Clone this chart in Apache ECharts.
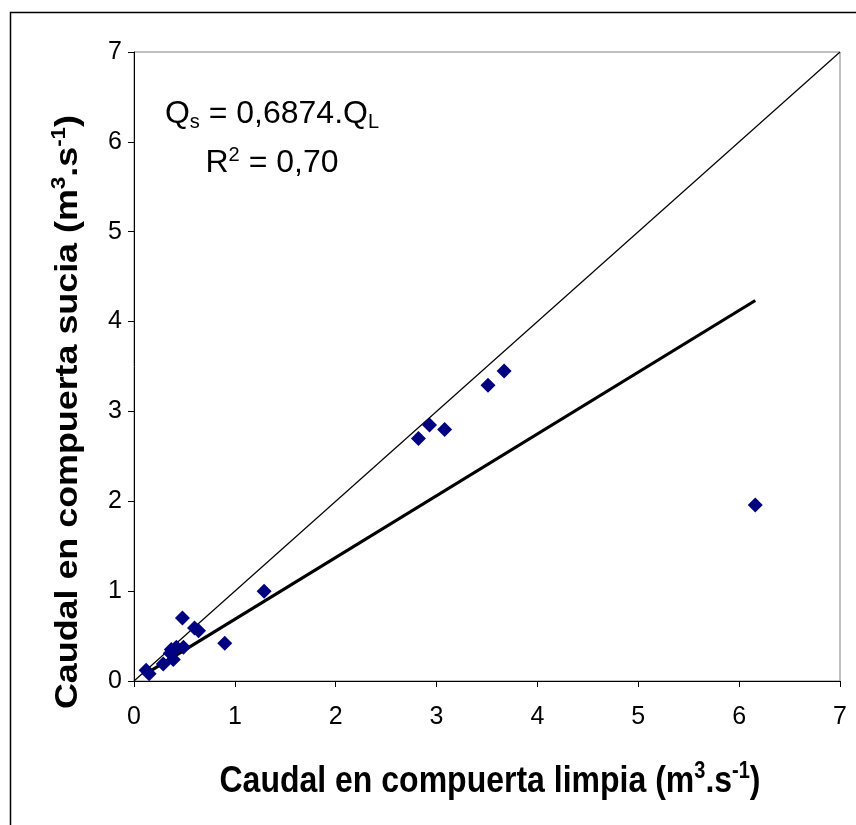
<!DOCTYPE html>
<html>
<head>
<meta charset="utf-8">
<script src="https://cdn.jsdelivr.net/npm/echarts@6/dist/echarts.min.js"></script>
<style>
html,body{margin:0;padding:0;background:#fff;}
#chart{width:856px;height:825px;}
</style>
</head>
<body>
<div id="chart"></div>
<script>
// Data
var cleanFlow = [6.16, 3.67, 3.51, 2.93, 2.82, 3.08, 1.29, 0.90, 0.48, 0.60, 0.64, 0.49, 0.37, 0.42, 0.39, 0.36, 0.29, 0.12, 0.15];
var dirtyFlow = [1.96, 3.45, 3.29, 2.85, 2.70, 2.80, 1.00, 0.42, 0.70, 0.59, 0.56, 0.375, 0.35, 0.375, 0.24, 0.31, 0.19, 0.12, 0.08];
var slope = 0.6874;
var r2Label = '0,70';
var slopeLabel = '0,6874';
var axisTicks = [0, 1, 2, 3, 4, 5, 6, 7];
var identityLine = [[0, 0], [7, 7]];
var xTitle = '{b|Caudal en compuerta limpia (m}{sup|3}{b|.s}{sup|-1}{b|)}';
var yTitle = '{b|Caudal en compuerta sucia (m}{sup|3}{b|.s}{sup|-1}{b|)}';

var points = cleanFlow.map(function (x, i) { return [x, dirtyFlow[i]]; });
var xMin = Math.min.apply(null, cleanFlow);
var xMax = Math.max.apply(null, cleanFlow);
var fitLine = [[xMin, slope * xMin], [xMax, slope * xMax]];

var FONT = 'Arial, "Liberation Sans", sans-serif';
var chart = echarts.init(document.getElementById('chart'), null, {renderer: 'canvas'});

var titleRich = {
  b: {fontSize: 32, fontWeight: 'bold', fontFamily: FONT, fill: '#000', lineHeight: 38},
  sup: {fontSize: 20, fontWeight: 'bold', fontFamily: FONT, fill: '#000', lineHeight: 20, verticalAlign: 'top'}
};

chart.setOption({
  animation: false,
  backgroundColor: '#fff',
  grid: {left: 134, top: 52, right: 16, bottom: 144, show: true, borderColor: '#808080', borderWidth: 1, backgroundColor: 'transparent'},
  xAxis: {
    type: 'value', min: 0, max: 7, interval: 1,
    splitLine: {show: false},
    axisLine: {show: true, onZero: false, lineStyle: {color: '#000', width: 1}},
    axisTick: {show: true, inside: false, length: 6, lineStyle: {color: '#000'}},
    axisLabel: {fontSize: 25, fontFamily: FONT, color: '#000', margin: 24}
  },
  yAxis: {
    type: 'value', min: 0, max: 7, interval: 1,
    splitLine: {show: false},
    axisLine: {show: true, onZero: false, lineStyle: {color: '#000', width: 1}},
    axisTick: {show: true, inside: false, length: 6, lineStyle: {color: '#000'}},
    axisLabel: {fontSize: 25, fontFamily: FONT, color: '#000', margin: 12}
  },
  series: [
    {
      type: 'line', data: identityLine, symbol: 'none', silent: true,
      lineStyle: {color: '#000', width: 1.2}, z: 2
    },
    {
      type: 'line', data: fitLine, symbol: 'none', silent: true,
      lineStyle: {color: '#000', width: 3.2}, z: 3
    },
    {
      type: 'scatter', data: points, symbol: 'diamond', symbolSize: 15,
      itemStyle: {color: '#000080', opacity: 1}, z: 4
    }
  ],
  graphic: [
    {
      type: 'rect', left: 8, top: 10, z: 100, silent: true,
      shape: {width: 900, height: 900},
      style: {fill: 'none', stroke: '#000', lineWidth: 1.5}
    },
    {
      type: 'text', x: 490, y: 782, scaleY: 1.15, z: 100,
      style: {text: xTitle, textAlign: 'center', textVerticalAlign: 'middle', rich: titleRich}
    },
    {
      type: 'text', x: 68, y: 412, rotation: Math.PI / 2, scaleX: 1.12, z: 100,
      style: {text: yTitle, textAlign: 'center', textVerticalAlign: 'middle', rich: titleRich}
    },
    {
      type: 'text', x: 272, y: 114, z: 100,
      style: {
        text: '{n|Q}{s|s}{n| = ' + slopeLabel + '.Q}{s|L}',
        textAlign: 'center', textVerticalAlign: 'middle',
        rich: {
          n: {fontSize: 32, fontFamily: FONT, fill: '#000', lineHeight: 36},
          s: {fontSize: 20, fontFamily: FONT, fill: '#000', lineHeight: 17, verticalAlign: 'bottom'}
        }
      }
    },
    {
      type: 'text', x: 272, y: 163, z: 100,
      style: {
        text: '{n|R}{p|2}{n| = ' + r2Label + '}',
        textAlign: 'center', textVerticalAlign: 'middle',
        rich: {
          n: {fontSize: 32, fontFamily: FONT, fill: '#000', lineHeight: 36},
          p: {fontSize: 20, fontFamily: FONT, fill: '#000', lineHeight: 17, verticalAlign: 'top'}
        }
      }
    }
  ]
});
</script>
</body>
</html>
